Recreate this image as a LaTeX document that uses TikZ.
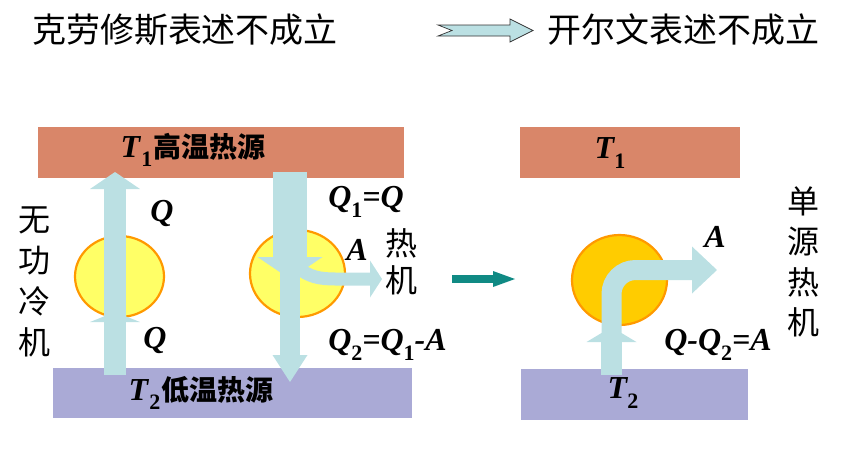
\documentclass[tikz,border=0pt]{standalone}
\usepackage{fontspec}
\setmainfont{Liberation Serif}
\newfontfamily\cjk{Noto Sans CJK SC}
\usetikzlibrary{positioning,arrows.meta,shapes.geometric}
\definecolor{hotc}{RGB}{217,134,105}
\definecolor{coldc}{RGB}{170,170,214}
\definecolor{flowc}{RGB}{187,224,227}
\definecolor{sunc}{RGB}{255,255,102}
\definecolor{goldc}{RGB}{255,204,0}
\definecolor{rimc}{RGB}{255,153,0}
\definecolor{tealc}{RGB}{16,138,132}
\newcommand\lo[1]{\raisebox{-0.3em}{\fontsize{22}{22}\selectfont\upshape #1}}

\begin{document}
\begin{tikzpicture}[x=1pt,y=-1pt,
  hot/.style={fill=hotc, inner sep=0pt, outer sep=0pt},
  cold/.style={fill=coldc, inner sep=0pt, outer sep=0pt},
  engine/.style={ellipse, draw=rimc, line width=2.2pt, inner sep=0pt},
  blk/.style n args={3}{draw=flowc, line width=#1, -{Triangle[width=#2,length=#3,line width=0pt]}},
  lbl/.style={font=\fontsize{32}{32}\selectfont\bfseries\itshape, inner sep=0pt},
  zh/.style={font=\fontsize{34}{34}\selectfont\cjk, inner sep=0pt},
  vert/.style={font=\fontsize{32}{#1}\selectfont\cjk, align=center, inner sep=0pt}]
\useasboundingbox (0,0) rectangle (844,451);

% titles
\node[zh] (clausius) at (185,30) {克劳修斯表述不成立};
\node[zh] (kelvin) at (683,30) {开尔文表述不成立};
\draw[fill=flowc, draw=black!80, line width=0.7pt] (438,25) -- (510,25) -- (510,19) -- (533,30.5)
  -- (510,42) -- (510,36) -- (438,36) -- (452,30.5) -- cycle;

% reservoirs
\node[hot, minimum width=366pt, minimum height=51pt] (hotL) at (221,152.5) {};
\node[cold, minimum width=359pt, minimum height=50pt] (coldL) at (232.5,393) {};
\node[hot, minimum width=220pt, minimum height=51pt] (hotR) at (630,152.5) {};
\node[cold, minimum width=227pt, minimum height=51pt] (coldR) at (634.5,394.5) {};

% engines
\node[engine, fill=sunc, minimum width=89pt, minimum height=81pt] (pumpL) at (119.5,276.5) {};
\node[engine, fill=sunc, minimum width=95pt, minimum height=87pt] (engM) at (297.5,273.5) {};
\node[engine, fill=goldc, minimum width=95pt, minimum height=90pt] (engR) at (619.5,280) {};

% arrow ends
\coordinate (p0) at (115,375);
\coordinate (p1) at (115,312);
\coordinate (p2) at (115,321);
\coordinate (p3) at (115,172);
\coordinate (m0) at (290,172);
\coordinate (m1) at (290,279);
\coordinate (m2) at (290,266);
\coordinate (m3) at (290,382);
\coordinate (w0) at (297,267);
\coordinate (w1) at (336,279);
\coordinate (w2) at (382,279);
\coordinate (r0) at (611.5,375);
\coordinate (r1) at (611.5,327);
\coordinate (r2) at (611.5,335);
\coordinate (r3) at (611.5,270);
\coordinate (r4) at (717,270);
\coordinate (g0) at (452,279);
\coordinate (g1) at (515,279);

\draw[blk={22pt}{50pt}{10pt}] (p0) -- (p1);
\draw[blk={22pt}{50pt}{17pt}] (p2) -- (p3);
\draw[blk={34pt}{65pt}{22pt}] (m0) -- (m1);
\draw[blk={20pt}{35pt}{27pt}] (m2) -- (m3);
\draw[blk={13pt}{37pt}{12pt}] (w0) to[out=-40,in=180] (w1) -- (w2);
\draw[blk={21pt}{50pt}{15pt}] (r0) -- (r1);
\draw[blk={20pt}{47pt}{25pt}, rounded corners=24pt] (r2) -- (r3) -- (r4);
\draw[tealc, line width=8pt, -{Triangle[width=16pt,length=22pt,line width=0pt]}] (g0) -- (g1);

% labels
\node[inner sep=0pt, font=\fontsize{32}{32}\selectfont] (t1L) at (193,150)
  {\textbf{\textit{T}}\lo{\bfseries 1}\kern1pt{\cjk\fontsize{28}{28}\selectfont\bfseries 高温热源}};
\node[inner sep=0pt, font=\fontsize{32}{32}\selectfont] (t2L) at (201,393)
  {\textbf{\textit{T}}\lo{\bfseries 2}\kern1pt{\cjk\fontsize{28}{28}\selectfont\bfseries 低温热源}};
\node[lbl] (qup) at (162,213) {Q};
\node[lbl] (qdn) at (155,340) {Q};
\node[lbl] (q1) at (366,202) {Q\lo{1}=Q};
\node[lbl] (wA) at (357,250) {A};
\node[lbl] (q2) at (387.5,345) {Q\lo{2}=Q\lo{1}-A};
\node[lbl] (t1R) at (610,153) {T\lo{1}};
\node[lbl] (t2R) at (623,393) {T\lo{2}};
\node[lbl] (wR) at (715,237) {A};
\node[lbl] (qR) at (718,345) {Q-Q\lo{2}=A};
\node[vert=41pt] (pumpname) at (35,282) {无\\功\\冷\\机};
\node[vert=37pt] (engname) at (401,261.5) {热\\机};
\node[vert=40.5pt] (onename) at (803,262) {单\\源\\热\\机};

\end{tikzpicture}
\end{document}
